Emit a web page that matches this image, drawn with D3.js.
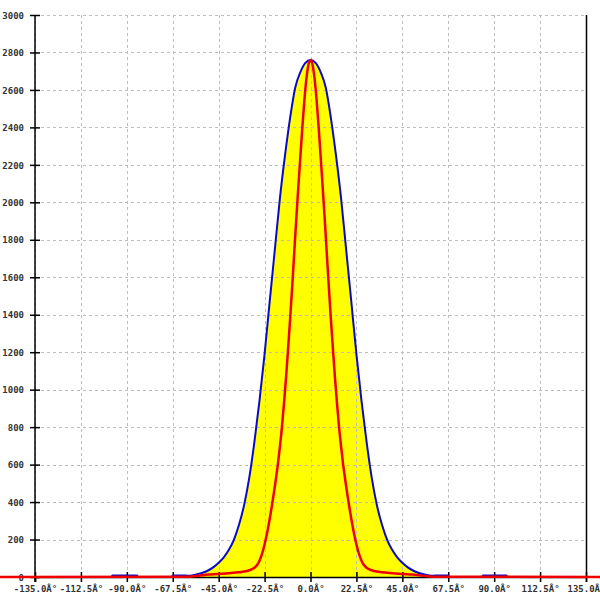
<!DOCTYPE html>
<html>
<head>
<meta charset="utf-8">
<script src="https://cdn.jsdelivr.net/npm/d3@7"></script>
<style>
  html, body { margin: 0; padding: 0; background: #fff; }
  svg { display: block; }
  .tick text { font-family: "DejaVu Sans Mono", monospace; font-size: 9px; font-weight: bold; fill: #333; }
</style>
</head>
<body>
<svg id="chart" width="600" height="600"></svg>
<script>
// ---- data ----
const xTicks = [-135, -112.5, -90, -67.5, -45, -22.5, 0, 22.5, 45, 67.5, 90, 112.5, 135];
const xTickLabels = ["-135.0Â°", "-112.5Â°", "-90.0Â°", "-67.5Â°", "-45.0Â°", "-22.5Â°", "0.0Â°",
                     "22.5Â°", "45.0Â°", "67.5Â°", "90.0Â°", "112.5Â°", "135.0Â°"];
const yTicks = [0, 200, 400, 600, 800, 1000, 1200, 1400, 1600, 1800, 2000, 2200, 2400, 2600, 2800, 3000];

const blueAngles = [-135, -97.5, -97, -85, -84.5, -68, -67.5, -62.5, -60, -57.5, -55, -52.5, -50, -47.5, -45,
  -42.5, -40, -37.5, -35, -32.5, -30, -27.5, -25, -22.5, -20, -17.5, -15, -12.5, -10, -7.5, -5, -2.5, 0,
  2.5, 5, 7.5, 10, 12.5, 15, 17.5, 20, 22.5, 25, 27.5, 30, 32.5, 35, 37.5, 40, 42.5, 45,
  47.5, 50, 52.5, 55, 57.5, 60, 62.5, 67.5, 68, 84, 84.5, 96, 96.5, 135];
const blueValues = [0, 0, 8, 8, 0, 0, 8, 8, 7, 10, 16, 24, 36, 53, 76,
  105, 145, 200, 280, 385, 530, 720, 940, 1190, 1470, 1745, 2020, 2250, 2450, 2612, 2694, 2744, 2760,
  2744, 2694, 2612, 2450, 2250, 2020, 1745, 1470, 1190, 940, 720, 530, 385, 280, 200, 145, 105, 76,
  53, 36, 24, 16, 10, 7, 8, 8, 0, 0, 8, 8, 0, 0];

const redAngles = [-180, -60, -55, -50, -45, -40, -35, -32.5, -30, -28, -27, -26, -25, -24, -23, -22, -21, -20, -19,
  -18, -17, -16, -15, -14, -13, -12, -11, -10, -9, -8, -7, -6, -5, -4, -3, -2, -1, 0,
  1, 2, 3, 4, 5, 6, 7, 8, 9, 10, 11, 12, 13, 14, 15, 16, 17, 18,
  19, 20, 21, 22, 23, 24, 25, 26, 27, 28, 30, 32.5, 35, 40, 45, 50, 55, 60, 180];
const redValues = [0, 2, 7, 13, 16, 20, 25, 29, 36, 45, 54, 67, 87, 115, 152, 198, 250, 310, 375,
  445, 520, 600, 695, 800, 925, 1062, 1215, 1375, 1545, 1725, 1905, 2075, 2240, 2400, 2545, 2660, 2735, 2760,
  2735, 2660, 2545, 2400, 2240, 2075, 1905, 1725, 1545, 1375, 1215, 1062, 925, 800, 695, 600, 520, 445,
  375, 310, 250, 198, 152, 115, 87, 67, 54, 45, 36, 29, 25, 20, 16, 13, 7, 2, 0];

// ---- chart ----
const svg = d3.select("#chart");
const padL = 35, padR = 586, padT = 15, padB = 577;

const x = d3.scaleLinear().domain([-135, 135]).range([padL, padR]);
const y = d3.scaleLinear().domain([0, 3000]).range([padB, padT]);

const blue = blueAngles.map((a, i) => [a, blueValues[i]]);
const red = redAngles.map((a, i) => [a, redValues[i]]);

// fill under blue curve
const area = d3.area()
  .x(d => x(d[0])).y0(y(0)).y1(d => y(d[1]))
  .curve(d3.curveMonotoneX);
svg.append("path").datum(blue.filter(d => d[0] >= -62 && d[0] <= 62))
  .attr("d", area).attr("fill", "#ffff00");

// grid
const grid = svg.append("g").attr("stroke", "#bdbdbd").attr("stroke-width", 1)
  .attr("stroke-dasharray", "3,3").attr("shape-rendering", "crispEdges");
grid.selectAll(".gx").data(xTicks).join("line")
  .attr("x1", d => Math.round(x(d)) + 0.5).attr("x2", d => Math.round(x(d)) + 0.5)
  .attr("y1", padT).attr("y2", padB);
grid.selectAll(".gy").data(yTicks).join("line")
  .attr("x1", padL).attr("x2", padR)
  .attr("y1", d => Math.round(y(d)) + 0.5).attr("y2", d => Math.round(y(d)) + 0.5);

// right border
svg.append("line").attr("x1", padR + 0.5).attr("x2", padR + 0.5)
  .attr("y1", padT).attr("y2", padB).attr("stroke", "#000").attr("stroke-width", 1.5);

// axes
const yAxis = d3.axisLeft(y).tickValues(yTicks).tickSize(5).tickPadding(6)
  .tickFormat(d3.format("d"));
const gy = svg.append("g").attr("transform", `translate(${padL},0)`).call(yAxis);
gy.selectAll(".tick line").attr("x1", 5).attr("stroke-width", 1.5);
gy.select(".domain").attr("stroke-width", 1.5).attr("d", `M0,${padT}V${padB + 5}`);
gy.selectAll(".tick text").attr("dy", "0.35em");

const xAxis = d3.axisBottom(x).tickValues(xTicks).tickSize(5).tickPadding(4)
  .tickFormat((d, i) => xTickLabels[i]);
const gx = svg.append("g").attr("transform", `translate(0,${padB})`).call(xAxis);
gx.selectAll(".tick line").attr("y1", -5).attr("stroke-width", 1.5);
gx.select(".domain").attr("stroke-width", 1.5);

// lines
const line = d3.line().x(d => x(d[0])).y(d => y(d[1])).curve(d3.curveMonotoneX);
svg.append("path").datum(blue).attr("d", line)
  .attr("fill", "none").attr("stroke", "#0a0ac8").attr("stroke-width", 2);
svg.append("path").datum(red).attr("d", line)
  .attr("fill", "none").attr("stroke", "#ee0000").attr("stroke-width", 2.5);
</script>
</body>
</html>
